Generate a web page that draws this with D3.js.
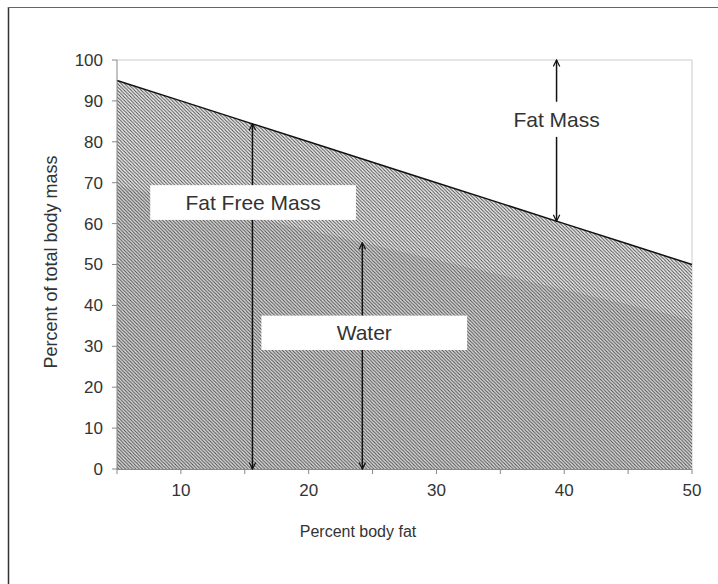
<!DOCTYPE html>
<html>
<head>
<meta charset="utf-8">
<script src="https://cdn.jsdelivr.net/npm/d3@7"></script>
<style>
  body { margin: 0; background: #fff; }
  text { font-family: "Liberation Sans", Arial, sans-serif; fill: #333; }
</style>
</head>
<body>
<div id="chart"></div>
<script>
// body fat (%) and share of total mass
const bodyFat = [5, 10, 15, 20, 25, 30, 35, 40, 45, 50];
const fatFreeMass = [95, 90, 85, 80, 75, 70, 65, 60, 55, 50];
const water = [69.4, 65.7, 62.1, 58.4, 54.8, 51.1, 47.5, 43.8, 40.2, 36.5];
const yTicks = [0, 10, 20, 30, 40, 50, 60, 70, 80, 90, 100];
const xTicks = [5, 10, 15, 20, 25, 30, 35, 40, 45, 50];
const xLabels = [10, 20, 30, 40, 50];

const width = 718, height = 584;

const svg = d3.select("#chart").append("svg")
  .attr("width", width)
  .attr("height", height);

const x = d3.scaleLinear().domain([5, 50]).range([117, 692]);
const y = d3.scaleLinear().domain([0, 100]).range([469, 60]);

// hatch patterns
const defs = svg.append("defs");
function hatch(id, bg, ink) {
  const s = 3.4;
  const p = defs.append("pattern")
    .attr("id", id)
    .attr("patternUnits", "userSpaceOnUse")
    .attr("width", s).attr("height", s);
  p.append("rect").attr("width", s).attr("height", s).attr("fill", bg);
  p.append("path")
    .attr("d", `M-1,-1 L${s + 1},${s + 1} M-1,${s - 1} L1,${s + 1} M${s - 1},-1 L${s + 1},1`)
    .attr("stroke", ink).attr("stroke-width", 1);
}
hatch("hatchFfm", "#f2f2f2", "#4a4a4a");
hatch("hatchWater", "#dcdcdc", "#4a4a4a");

// arrowheads
function marker(id, orient) {
  defs.append("marker")
    .attr("id", id)
    .attr("viewBox", "0 0 10 10")
    .attr("refX", 9).attr("refY", 5)
    .attr("markerWidth", 8).attr("markerHeight", 8)
    .attr("markerUnits", "userSpaceOnUse")
    .attr("orient", orient)
    .append("path")
    .attr("d", "M1,1 L9,5 L1,9")
    .attr("fill", "none").attr("stroke", "#111").attr("stroke-width", 1.5);
}
marker("arrowEnd", "auto");
marker("arrowStart", "auto-start-reverse");

// outer frame (left + top)
svg.append("line").attr("x1", 8.5).attr("x2", 8.5).attr("y1", 7).attr("y2", height)
  .attr("stroke", "#333").attr("stroke-width", 1.5);
svg.append("line").attr("x1", 8).attr("x2", width).attr("y1", 7.5).attr("y2", 7.5)
  .attr("stroke", "#666").attr("stroke-width", 1.2);

// plot border top / right
svg.append("line").attr("x1", x(5)).attr("x2", x(50)).attr("y1", y(100)).attr("y2", y(100))
  .attr("stroke", "#ccc");
svg.append("line").attr("x1", x(50)).attr("x2", x(50)).attr("y1", y(100)).attr("y2", y(0))
  .attr("stroke", "#ccc");

const area = d3.area()
  .x((d, i) => x(bodyFat[i]))
  .y0(y(0))
  .y1(d => y(d));

svg.append("path")
  .datum(fatFreeMass)
  .attr("d", area)
  .attr("fill", "url(#hatchFfm)");

svg.append("path")
  .datum(water)
  .attr("d", area)
  .attr("fill", "url(#hatchWater)");

svg.append("path")
  .datum(fatFreeMass)
  .attr("d", d3.line().x((d, i) => x(bodyFat[i])).y(d => y(d)))
  .attr("fill", "none")
  .attr("stroke", "#111")
  .attr("stroke-width", 1.5);

// axes
const axisColor = "#888";
svg.append("line").attr("x1", x(5)).attr("x2", x(5)).attr("y1", y(0)).attr("y2", y(100))
  .attr("stroke", axisColor);
svg.append("line").attr("x1", x(5)).attr("x2", x(50)).attr("y1", y(0) + 0.5).attr("y2", y(0) + 0.5)
  .attr("stroke", axisColor);

svg.selectAll(".ytick").data(yTicks).enter().append("line")
  .attr("x1", x(5) - 5).attr("x2", x(5))
  .attr("y1", d => y(d)).attr("y2", d => y(d))
  .attr("stroke", axisColor);
svg.selectAll(".ylab").data(yTicks).enter().append("text")
  .attr("x", x(5) - 14)
  .attr("y", d => y(d))
  .attr("dy", "0.35em")
  .attr("text-anchor", "end")
  .style("font-size", "17px")
  .text(d => d);

svg.selectAll(".xtick").data(xTicks).enter().append("line")
  .attr("x1", d => x(d)).attr("x2", d => x(d))
  .attr("y1", y(0)).attr("y2", y(0) + 5)
  .attr("stroke", axisColor);
svg.selectAll(".xlab").data(xLabels).enter().append("text")
  .attr("x", d => x(d))
  .attr("y", y(0) + 21)
  .attr("dy", "0.35em")
  .attr("text-anchor", "middle")
  .style("font-size", "17px")
  .text(d => d);

svg.append("text")
  .attr("transform", "translate(57,262) rotate(-90)")
  .attr("text-anchor", "middle")
  .style("font-size", "18px")
  .text("Percent of total body mass");

svg.append("text")
  .attr("x", 358).attr("y", 531)
  .attr("text-anchor", "middle")
  .attr("dy", "0.35em")
  .style("font-size", "16px")
  .text("Percent body fat");

// arrows
function arrow(xv, y0v, y1v) {
  svg.append("line")
    .attr("x1", x(xv)).attr("x2", x(xv))
    .attr("y1", y(y0v)).attr("y2", y(y1v))
    .attr("stroke", "#111").attr("stroke-width", 1.5)
    .attr("marker-start", "url(#arrowStart)")
    .attr("marker-end", "url(#arrowEnd)");
}
arrow(15.6, 0, 84.4);
arrow(24.2, 0, 55.3);
arrow(39.4, 60.6, 100);

// label boxes
function box(label, x0, x1, y0, y1) {
  svg.append("rect")
    .attr("x", x(x0)).attr("width", x(x1) - x(x0))
    .attr("y", y(y1)).attr("height", y(y0) - y(y1))
    .attr("fill", "#fff");
  svg.append("text")
    .attr("x", (x(x0) + x(x1)) / 2)
    .attr("y", (y(y0) + y(y1)) / 2)
    .attr("dy", "0.35em")
    .attr("text-anchor", "middle")
    .style("font-size", "21px")
    .text(label);
}
box("Fat Free Mass", 7.6, 23.7, 60.9, 69.4);
box("Water", 16.3, 32.4, 29.1, 37.5);

// fat mass label sits on the arrow with a white gap
svg.append("rect")
  .attr("x", x(39.4) - 48).attr("width", 96)
  .attr("y", y(89.8)).attr("height", y(81.2) - y(89.8))
  .attr("fill", "#fff");
svg.append("text")
  .attr("x", x(39.4))
  .attr("y", y(85.3))
  .attr("dy", "0.35em")
  .attr("text-anchor", "middle")
  .style("font-size", "21px")
  .text("Fat Mass");
</script>
</body>
</html>
